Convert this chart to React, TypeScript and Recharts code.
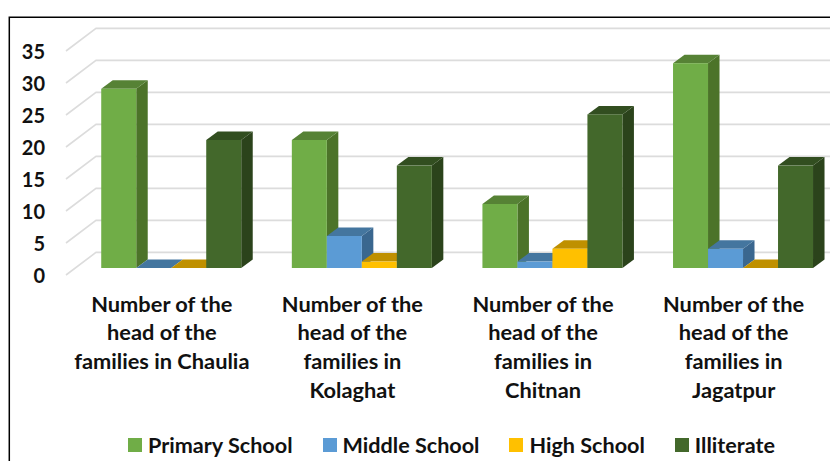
import { BarChart, Bar, XAxis, YAxis, CartesianGrid, Legend } from 'recharts';

const categories = ['Chaulia', 'Kolaghat', 'Chitnan', 'Jagatpur'];
const primarySchool = [28, 20, 10, 32];
const middleSchool = [0, 5, 1, 3];
const highSchool = [0, 1, 3, 0];
const illiterate = [20, 16, 24, 16];
const yTicks = [0, 5, 10, 15, 20, 25, 30, 35];
const categoryLines = [
  ['Number of the', 'head of the', 'families in Chaulia'],
  ['Number of the', 'head of the', 'families in', 'Kolaghat'],
  ['Number of the', 'head of the', 'families in', 'Chitnan'],
  ['Number of the', 'head of the', 'families in', 'Jagatpur'],
];

const data = categories.map((name, i) => ({
  name,
  primary: primarySchool[i],
  middle: middleSchool[i],
  high: highSchool[i],
  illiterate: illiterate[i],
}));

const seriesStyles = [
  { key: 'primary', label: 'Primary School', front: '#70AD47', top: '#568235', side: '#4C7329' },
  { key: 'middle', label: 'Middle School', front: '#5B9BD5', top: '#44769F', side: '#3A678F' },
  { key: 'high', label: 'High School', front: '#FFC000', top: '#BF9000', side: '#A67D00' },
  { key: 'illiterate', label: 'Illiterate', front: '#43682B', top: '#324E20', side: '#2B431B' },
];

const FONT = 'Lato, sans-serif';
const TEXT = '#111';

// oblique offset of the bar depth
const DEPTH_X = 11.5;
const DEPTH_Y = 8.5;

function Box3D(props: any) {
  const { x, y, width, height, front, top, side } = props;
  const r = x + width;
  const b = y + height;
  const pts = (p: number[][]) => p.map((q) => q.join(',')).join(' ');
  return (
    <g>
      <polygon points={pts([[r, y], [r + DEPTH_X, y - DEPTH_Y], [r + DEPTH_X, b - DEPTH_Y], [r, b]])} fill={side} />
      <polygon points={pts([[x, y], [x + DEPTH_X, y - DEPTH_Y], [r + DEPTH_X, y - DEPTH_Y], [r, y]])} fill={top} />
      {height > 0 && <rect x={x} y={y} width={width} height={height} fill={front} />}
    </g>
  );
}

// floor/wall gridline: slanted segment at the left, then flat along the back wall
function GridLine(props: any) {
  const { y1 } = props;
  const d = `M66 ${y1 + 7} L96 ${y1 - 15.6} L860 ${y1 - 15.6}`;
  return <path d={d} fill="none" stroke="#DCDCDC" strokeWidth={1.6} />;
}

function YTick({ y, payload }: any) {
  return (
    <text x={45} y={y + 14.5} textAnchor="end" fontFamily={FONT} fontWeight={700} fontSize={20} fill={TEXT}>
      {payload.value}
    </text>
  );
}

function XTick({ x, y, index }: any) {
  return (
    <text textAnchor="middle" fontFamily={FONT} fontWeight={700} fontSize={21.8} fill={TEXT}>
      {categoryLines[index].map((line, i) => (
        <tspan key={line} x={x - 9} y={y + 35.5 + i * 28.7}>
          {line}
        </tspan>
      ))}
    </text>
  );
}

function LegendRow({ payload }: any) {
  return (
    <div style={{ display: 'flex', gap: 30, fontFamily: FONT, fontWeight: 700, fontSize: 21.6, color: TEXT, lineHeight: '24px', whiteSpace: 'nowrap' }}>
      {(payload || []).map((item: any) => (
        <div key={item.value} style={{ display: 'flex', alignItems: 'center', gap: 6 }}>
          <span style={{ width: 14, height: 14, background: item.color, display: 'block' }} />
          {item.value}
        </div>
      ))}
    </div>
  );
}

export default function App() {
  return (
    <div style={{ position: 'absolute', left: 0, top: 0, width: 830, height: 461, overflow: 'hidden', background: '#fff' }}>
      {/* chart frame, open at the right and bottom where the page cuts it off */}
      <svg width={830} height={461} style={{ position: 'absolute', left: 0, top: 0 }}>
        <path d="M9.3 461 L9.3 17.3 L830 17.3" fill="none" stroke="#000" strokeWidth={1.5} />
      </svg>
      <BarChart
        width={860}
        height={461}
        data={data}
        margin={{ top: 44, right: 22.1, bottom: 0, left: 0 }}
        barGap={0}
        barCategoryGap="13.5%"
        style={{ position: 'absolute', left: 0, top: 0 }}
      >
        <CartesianGrid vertical={false} horizontal={(p: any) => <GridLine key={p.y1} {...p} />} />
        <XAxis dataKey="name" height={193} axisLine={false} tickLine={false} interval={0} tick={<XTick />} />
        <YAxis width={75.5} domain={[0, 35]} ticks={yTicks} axisLine={false} tickLine={false} tick={<YTick />} />
        <Legend
          verticalAlign="middle"
          align="center"
          itemSorter={null}
          wrapperStyle={{ left: 128, top: 433, width: 'auto' }}
          content={<LegendRow />}
        />
        {seriesStyles.map((s) => (
          <Bar
            key={s.key}
            dataKey={s.key}
            name={s.label}
            fill={s.front}
            isAnimationActive={false}
            shape={(p: any) => <Box3D {...p} front={s.front} top={s.top} side={s.side} />}
          />
        ))}
      </BarChart>
    </div>
  );
}
